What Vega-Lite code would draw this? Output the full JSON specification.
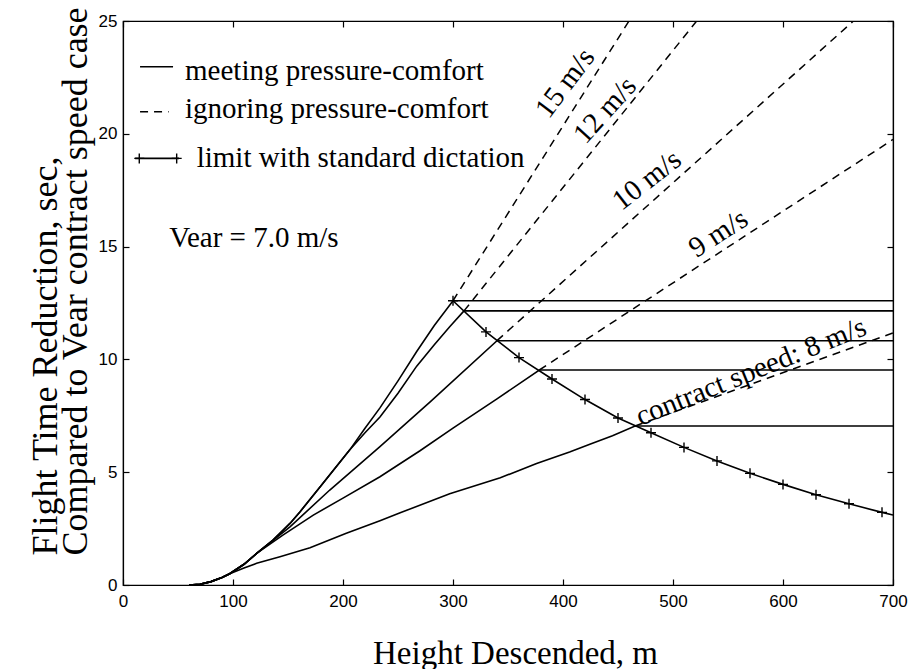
{
  "$schema": "https://vega.github.io/schema/vega-lite/v6.json",
  "width": 770,
  "height": 564,
  "autosize": {"type": "none"},
  "padding": {"left": 123, "top": 21, "right": 17, "bottom": 84},
  "background": "white",
  "config": {
    "view": {"stroke": "black", "strokeWidth": 1.2},
    "axis": {"grid": false, "domainColor": "black", "domainWidth": 1.2, "tickColor": "black", "tickWidth": 1.2, "labelColor": "black", "titleColor": "black"}
  },
  "datasets": {
    "solid": [
      {"g":"s8","h":60,"t":0},{"g":"s8","h":70,"t":0.03},{"g":"s8","h":80,"t":0.15},{"g":"s8","h":90,"t":0.33},{"g":"s8","h":97,"t":0.5},
      {"g":"s8","h":110,"t":0.75},{"g":"s8","h":121.5,"t":0.96},{"g":"s8","h":142.7,"t":1.25},{"g":"s8","h":170,"t":1.65},{"g":"s8","h":203,"t":2.29},{"g":"s8","h":233.6,"t":2.85},{"g":"s8","h":252,"t":3.2},{"g":"s8","h":297,"t":4.05},{"g":"s8","h":343,"t":4.75},{"g":"s8","h":376,"t":5.39},{"g":"s8","h":406,"t":5.9},{"g":"s8","h":425,"t":6.25},{"g":"s8","h":445,"t":6.62},{"g":"s8","h":465.5,"t":7.05},{"g":"s8","h":700,"t":7.05},

      {"g":"s9","h":60,"t":0},{"g":"s9","h":70,"t":0.03},{"g":"s9","h":80,"t":0.15},{"g":"s9","h":90,"t":0.33},{"g":"s9","h":97,"t":0.5},{"g":"s9","h":110,"t":0.92},{"g":"s9","h":121.5,"t":1.4},
      {"g":"s9","h":145,"t":2.2},{"g":"s9","h":173,"t":3.1},{"g":"s9","h":200,"t":3.85},{"g":"s9","h":233.6,"t":4.8},{"g":"s9","h":270,"t":5.95},{"g":"s9","h":300,"t":6.95},{"g":"s9","h":340,"t":8.25},{"g":"s9","h":378.5,"t":9.53},{"g":"s9","h":700,"t":9.53},

      {"g":"s10","h":60,"t":0},{"g":"s10","h":70,"t":0.03},{"g":"s10","h":80,"t":0.15},{"g":"s10","h":90,"t":0.33},{"g":"s10","h":97,"t":0.5},{"g":"s10","h":110,"t":0.92},{"g":"s10","h":121.5,"t":1.4},
      {"g":"s10","h":151.8,"t":2.58},{"g":"s10","h":188,"t":4.21},{"g":"s10","h":233.6,"t":6.13},{"g":"s10","h":280,"t":8.15},{"g":"s10","h":340,"t":10.83},{"g":"s10","h":700,"t":10.83},

      {"g":"s12","h":60,"t":0},{"g":"s12","h":70,"t":0.03},{"g":"s12","h":80,"t":0.15},{"g":"s12","h":90,"t":0.33},{"g":"s12","h":97,"t":0.5},{"g":"s12","h":110,"t":0.92},{"g":"s12","h":121.5,"t":1.4},
      {"g":"s12","h":136.6,"t":2.0},{"g":"s12","h":151.8,"t":2.73},{"g":"s12","h":161,"t":3.25},{"g":"s12","h":180,"t":4.4},{"g":"s12","h":206,"t":5.98},
      {"g":"s12","h":220,"t":6.75},{"g":"s12","h":233.6,"t":7.45},{"g":"s12","h":250,"t":8.5},{"g":"s12","h":267,"t":9.7},{"g":"s12","h":283,"t":10.65},{"g":"s12","h":297,"t":11.45},{"g":"s12","h":310,"t":12.15},{"g":"s12","h":700,"t":12.15},

      {"g":"s15","h":60,"t":0},{"g":"s15","h":70,"t":0.03},{"g":"s15","h":80,"t":0.15},{"g":"s15","h":90,"t":0.33},{"g":"s15","h":97,"t":0.5},{"g":"s15","h":110,"t":0.92},{"g":"s15","h":121.5,"t":1.4},
      {"g":"s15","h":136.6,"t":2.0},{"g":"s15","h":151.8,"t":2.73},{"g":"s15","h":161,"t":3.25},{"g":"s15","h":180,"t":4.4},{"g":"s15","h":206,"t":5.98},
      {"g":"s15","h":220,"t":6.95},{"g":"s15","h":233.6,"t":7.85},{"g":"s15","h":250,"t":9.05},{"g":"s15","h":267,"t":10.35},{"g":"s15","h":283,"t":11.5},{"g":"s15","h":300,"t":12.6},{"g":"s15","h":700,"t":12.6},

      {"g":"limit","h":300,"t":12.6},{"g":"limit","h":330,"t":11.22},{"g":"limit","h":360,"t":10.08},{"g":"limit","h":390,"t":9.13},{"g":"limit","h":420,"t":8.22},{"g":"limit","h":450,"t":7.4},{"g":"limit","h":480,"t":6.75},{"g":"limit","h":510,"t":6.1},{"g":"limit","h":540,"t":5.5},{"g":"limit","h":570,"t":4.95},{"g":"limit","h":600,"t":4.46},{"g":"limit","h":630,"t":4.0},{"g":"limit","h":660,"t":3.6},{"g":"limit","h":690,"t":3.22},{"g":"limit","h":700,"t":3.1},

      {"g":"legsolid","h":15.5,"t":22.97},{"g":"legsolid","h":45.5,"t":22.97},
      {"g":"leglimit","h":11,"t":18.91},{"g":"leglimit","h":51,"t":18.91}
    ],
    "dashed": [
      {"g":"d15","h":300,"t":12.6},{"g":"d15","h":460,"t":25},
      {"g":"d12","h":310,"t":12.15},{"g":"d12","h":521.5,"t":25},
      {"g":"d10","h":340,"t":10.83},{"g":"d10","h":664,"t":25},
      {"g":"d9","h":378.5,"t":9.53},{"g":"d9","h":700,"t":19.75},
      {"g":"d8","h":465.5,"t":7.05},{"g":"d8","h":700,"t":11.17},
      {"g":"legdash","h":15.5,"t":20.98},{"g":"legdash","h":41.5,"t":20.98}
    ],
    "markers": [
      {"h":300,"t":12.6},{"h":330,"t":11.22},{"h":360,"t":10.08},{"h":390,"t":9.13},{"h":420,"t":8.22},{"h":450,"t":7.4},{"h":480,"t":6.75},{"h":510,"t":6.1},{"h":540,"t":5.5},{"h":570,"t":4.95},{"h":600,"t":4.46},{"h":630,"t":4.0},{"h":660,"t":3.6},{"h":690,"t":3.22},
      {"h":14.8,"t":18.91},{"h":48.8,"t":18.91}
    ],
    "curvelabels": [
      {"label":"15 m/s","h":401.8,"t":22.25,"angle":-53},
      {"label":"12 m/s","h":438.2,"t":21.05,"angle":-48},
      {"label":"10 m/s","h":476.1,"t":17.95,"angle":-38},
      {"label":"9 m/s","h":541.2,"t":15.59,"angle":-33},
      {"label":"contract speed: 8 m/s","h":570.8,"t":9.46,"angle":-22}
    ],
    "legendtext": [
      {"label":"meeting pressure-comfort","h":56.4,"t":22.38},
      {"label":"ignoring pressure-comfort","h":56.4,"t":20.69},
      {"label":"limit with standard dictation","h":67,"t":18.54},
      {"label":"Vear = 7.0 m/s","h":42,"t":15.0}
    ]
  },
  "resolve": {"axis": {"x": "independent", "y": "independent"}},
  "layer": [
    {
      "data": {"name": "solid"},
      "mark": {"type": "line", "color": "black", "strokeWidth": 1.6, "clip": true},
      "encoding": {
        "x": {"field": "h", "type": "quantitative", "scale": {"domain": [0, 700], "nice": false, "zero": false},
          "axis": {"values": [0,100,200,300,400,500,600,700], "tickSize": -6, "labelPadding": 14, "labelFont": "Liberation Sans", "labelFontSize": 17, "labelFlush": false,
            "title": "Height Descended, m", "titleFont": "Liberation Serif", "titleFontSize": 33, "titleFontWeight": "normal", "titleX": 392, "titleY": 78, "titleAlign": "center", "titleBaseline": "alphabetic"}},
        "y": {"field": "t", "type": "quantitative", "scale": {"domain": [0, 25], "nice": false, "zero": false},
          "axis": {"values": [0,5,10,15,20,25], "tickSize": -6, "labelPadding": 12, "labelFont": "Liberation Sans", "labelFontSize": 17, "labelFlush": false,
            "title": ["Flight Time Reduction, sec,", "Compared to Vear contract speed case"], "titleFont": "Liberation Serif", "titleFontSize": 36, "titleFontWeight": "normal",
            "titleAngle": -90, "titleAlign": "left", "titleBaseline": "alphabetic", "titleX": -67, "titleY": 534, "titleLineHeight": 30}},
        "detail": {"field": "g"}
      }
    },
    {
      "data": {"name": "dashed"},
      "mark": {"type": "line", "color": "black", "strokeWidth": 1.5, "strokeDash": [8, 6], "clip": true},
      "encoding": {
        "x": {"field": "h", "type": "quantitative", "axis": {"orient": "top", "values": [0,100,200,300,400,500,600,700], "tickSize": -6, "labels": false, "title": null}},
        "y": {"field": "t", "type": "quantitative", "axis": {"orient": "right", "values": [0,5,10,15,20,25], "tickSize": -6, "labels": false, "title": null}},
        "detail": {"field": "g"}
      }
    },
    {
      "data": {"name": "markers"},
      "mark": {"type": "point", "shape": "M-1,0H1M0,-1V1", "size": 100, "filled": false, "color": "black", "strokeWidth": 1.4, "opacity": 1},
      "encoding": {
        "x": {"field": "h", "type": "quantitative", "axis": null},
        "y": {"field": "t", "type": "quantitative", "axis": null}
      }
    },
    {
      "data": {"name": "curvelabels"},
      "mark": {"type": "text", "font": "Liberation Serif", "fontSize": 29, "align": "center", "baseline": "middle", "color": "black"},
      "encoding": {
        "x": {"field": "h", "type": "quantitative", "axis": null},
        "y": {"field": "t", "type": "quantitative", "axis": null},
        "text": {"field": "label"},
        "angle": {"field": "angle", "type": "quantitative", "scale": null}
      }
    },
    {
      "data": {"name": "legendtext"},
      "mark": {"type": "text", "font": "Liberation Serif", "fontSize": 29, "align": "left", "baseline": "alphabetic", "color": "black"},
      "encoding": {
        "x": {"field": "h", "type": "quantitative", "axis": null},
        "y": {"field": "t", "type": "quantitative", "axis": null},
        "text": {"field": "label"}
      }
    }
  ]
}
